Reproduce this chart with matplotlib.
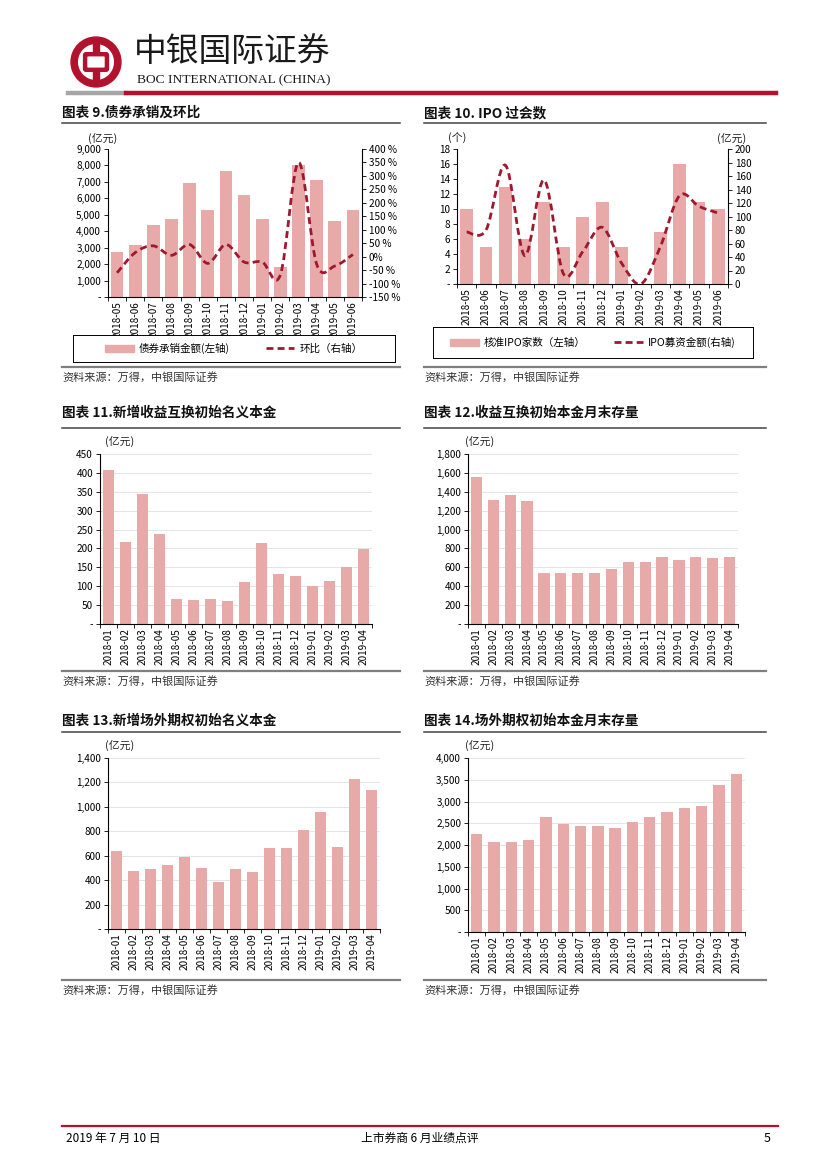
import numpy as np
import matplotlib
matplotlib.use("Agg")
import matplotlib.pyplot as plt
from matplotlib.path import Path
from matplotlib.patches import PathPatch, Wedge, Rectangle, FancyBboxPatch, Patch
from matplotlib.lines import Line2D
from matplotlib.ticker import FixedLocator, FuncFormatter

plt.rcParams['font.family'] = ['Liberation Sans Narrow', 'Noto Sans CJK SC', 'DejaVu Sans']

# ---- data ----
months_a = ['2018-05', '2018-06', '2018-07', '2018-08', '2018-09', '2018-10', '2018-11',
            '2018-12', '2019-01', '2019-02', '2019-03', '2019-04', '2019-05', '2019-06']
months_b = ['2018-01', '2018-02', '2018-03', '2018-04', '2018-05', '2018-06', '2018-07',
            '2018-08', '2018-09', '2018-10', '2018-11', '2018-12', '2019-01', '2019-02',
            '2019-03', '2019-04']

bond_amt = [2750, 3150, 4400, 4750, 6950, 5300, 7650, 6200, 4750, 1800, 8050, 7100, 4600, 5300]
bond_mom = [-60, 15, 40, 5, 45, -25, 45, -20, -20, -68, 350, -28, -35, 8]

ipo_cnt = [10, 5, 13, 6, 11, 5, 9, 11, 5, 0, 7, 16, 11, 10]
ipo_amt = [77, 80, 176, 42, 154, 15, 48, 84, 31, 0, 55, 131, 115, 105]

trs_new = [408, 216, 343, 238, 66, 64, 66, 62, 112, 214, 132, 128, 101, 113, 151, 198]
trs_bal = [1560, 1315, 1370, 1305, 545, 540, 538, 540, 580, 652, 658, 705, 680, 705, 700, 705]
otc_new = [640, 478, 492, 528, 588, 502, 382, 494, 468, 660, 660, 810, 958, 668, 1230, 1140]
otc_bal = [2250, 2060, 2060, 2120, 2650, 2490, 2430, 2440, 2400, 2520, 2640, 2750, 2860, 2890, 3380, 3640]

BAR = '#E8A9A9'
LINE = '#A0182E'
RED = '#B3122E'
CJK = ['Noto Sans CJK SC']
W, H = 827, 1169

fig = plt.figure(figsize=(W / 100, H / 100), dpi=100)


def px_axes(x0, y0, x1, y1):
    return fig.add_axes([x0 / W, 1 - y1 / H, (x1 - x0) / W, (y1 - y0) / H])


def ftext(x, y, s, **kw):
    fig.text(x / W, 1 - y / H, s, **kw)


def hline(x0, x1, y, color, lw):
    fig.add_artist(Line2D([x0 / W, x1 / W], [1 - y / H, 1 - y / H], color=color, lw=lw))


def thousands(v, pos=None):
    if v == 0:
        return '-'
    return f'{int(v):,}'


def smooth_path(xs, ys):
    # Bezier path through the points (Excel-like smoothed line)
    pts = np.column_stack([xs, ys]).astype(float)
    verts = [pts[0]]
    codes = [Path.MOVETO]
    n = len(pts)
    for i in range(n - 1):
        p0 = pts[i - 1] if i > 0 else pts[i]
        p1 = pts[i]
        p2 = pts[i + 1]
        p3 = pts[i + 2] if i + 2 < n else pts[i + 1]
        c1 = p1 + (p2 - p0) / 6
        c2 = p2 - (p3 - p1) / 6
        verts += [c1, c2, p2]
        codes += [Path.CURVE4] * 3
    return Path(verts, codes)


def style_cat_axis(ax, labels, grid=True):
    n = len(labels)
    ax.set_xlim(-0.5, n - 0.5)
    ax.set_xticks(range(n))
    ax.set_xticklabels(labels, rotation=90, fontsize=7.2)
    ax.xaxis.set_minor_locator(FixedLocator(np.arange(-0.5, n, 1)))
    ax.tick_params(axis='x', which='major', length=0, pad=3)
    ax.tick_params(axis='x', which='minor', length=3, width=0.6, direction='out')
    ax.tick_params(axis='y', length=3, width=0.6, labelsize=7.2, direction='out', pad=2)
    for s in ['top', 'right']:
        ax.spines[s].set_visible(False)
    ax.spines['left'].set_linewidth(0.8)
    ax.spines['bottom'].set_linewidth(0.8)
    if grid:
        ax.yaxis.grid(True, color='#E0E0E0', lw=0.6)
        ax.set_axisbelow(True)


def section(x, title_y, line_y, sep_y, x1, title):
    ftext(x, title_y, title, fontsize=9.8, fontweight='bold', va='center', color='#111111')
    hline(x, x1, line_y, '#444444', 1.1)
    hline(x, x1, sep_y, '#7F7F7F', 1.6)
    ftext(x, sep_y + 10, '资料来源：万得，中银国际证券', fontsize=8, style='italic',
          va='center', color='#333333', family=CJK)


def unit(x, y, s):
    ftext(x, y, s, fontsize=7.8, va='center', color='#222222', family=CJK)


def bar_chart(rect, labels, vals, ymax, step):
    ax = px_axes(*rect)
    ax.bar(range(len(vals)), vals, width=0.66, color=BAR)
    style_cat_axis(ax, labels)
    ax.set_ylim(0, ymax)
    ax.set_yticks(np.arange(0, ymax + 1, step))
    ax.yaxis.set_major_formatter(FuncFormatter(thousands))
    return ax


def legend_box(rect, labels, colsp):
    lb = px_axes(*rect)
    lb.set_xticks([])
    lb.set_yticks([])
    for s in lb.spines.values():
        s.set_linewidth(0.7)
    lb.legend([Patch(color=BAR), Line2D([], [], color=LINE, lw=2.0, ls=(0, (2.5, 1.5)))],
              labels, loc='center', ncol=2, frameon=False, columnspacing=colsp,
              handlelength=2.7, handletextpad=0.5, prop={'family': CJK, 'size': 7.6})


# ---- header ----
lg = px_axes(70, 36, 122, 88)
lg.set_xlim(0, 1)
lg.set_ylim(0, 1)
lg.axis('off')
lg.add_patch(Wedge((0.5, 0.5), 0.48, 0, 360, width=0.12, color=RED))
lg.add_patch(Rectangle((0.445, 0.06), 0.11, 0.88, color=RED))
lg.add_patch(FancyBboxPatch((0.31, 0.37), 0.38, 0.26, boxstyle='round,pad=0.02',
                            fc='white', ec=RED, lw=3.2))
ftext(134, 52, '中银国际证券', fontsize=23.6, va='center', color='#1a1a1a', family=CJK)
ftext(137, 80, 'BOC INTERNATIONAL (CHINA)', fontsize=9.7, va='center',
      color='#1a1a1a', family=['Liberation Serif'])
hline(68, 126, 93, '#A6A6A6', 3.2)
hline(126, 776, 93, RED, 3.2)

# ---- section frames ----
section(62, 113, 123, 367, 400, '图表 9.债券承销及环比')
section(424, 113, 123, 367, 766, '图表 10. IPO 过会数')
section(62, 413, 428, 671, 400, '图表 11.新增收益互换初始名义本金')
section(424, 413, 428, 671, 766, '图表 12.收益互换初始本金月末存量')
section(62, 721, 732, 980, 400, '图表 13.新增场外期权初始名义本金')
section(424, 721, 732, 980, 766, '图表 14.场外期权初始本金月末存量')

# ---- chart 9 ----
ax9 = px_axes(108, 149, 362, 297)
ax9.bar(range(len(bond_amt)), bond_amt, width=0.7, color=BAR)
style_cat_axis(ax9, months_a, grid=False)
ax9.set_ylim(0, 9000)
ax9.set_yticks(np.arange(0, 9001, 1000))
ax9.yaxis.set_major_formatter(FuncFormatter(thousands))
ax9r = ax9.twinx()
ax9r.set_ylim(-150, 400)
ax9r.set_yticks(np.arange(-150, 401, 50))
ax9r.yaxis.set_major_formatter(FuncFormatter(lambda v, p: '0%' if v == 0 else f'{int(v)} %'))
ax9r.tick_params(axis='y', length=3, width=0.6, labelsize=7.2, pad=2)
for s in ['top', 'left', 'bottom']:
    ax9r.spines[s].set_visible(False)
ax9r.spines['right'].set_linewidth(0.8)
ax9r.add_patch(PathPatch(smooth_path(range(len(bond_mom)), bond_mom), fill=False,
                         ec=LINE, lw=2.0, ls=(0, (2.5, 1.5))))
unit(88, 138, '(亿元)')
legend_box((73, 335, 395, 362), ['债券承销金额(左轴)', '环比（右轴）'], 3.4)

# ---- chart 10 ----
ax10 = px_axes(457, 149, 728, 284)
ax10.bar(range(len(ipo_cnt)), ipo_cnt, width=0.66, color=BAR)
style_cat_axis(ax10, months_a, grid=False)
ax10.set_ylim(0, 18)
ax10.set_yticks(np.arange(0, 19, 2))
ax10.yaxis.set_major_formatter(FuncFormatter(thousands))
ax10r = ax10.twinx()
ax10r.set_ylim(0, 200)
ax10r.set_yticks(np.arange(0, 201, 20))
ax10r.tick_params(axis='y', length=3, width=0.6, labelsize=7.2, pad=2)
for s in ['top', 'left', 'bottom']:
    ax10r.spines[s].set_visible(False)
ax10r.spines['right'].set_linewidth(0.8)
ax10r.add_patch(PathPatch(smooth_path(range(len(ipo_amt)), ipo_amt), fill=False,
                          ec=LINE, lw=2.0, ls=(0, (2.5, 1.5))))
unit(448, 138, '(个)')
unit(717, 138, '(亿元)')
legend_box((433, 327, 753, 358), ['核准IPO家数（左轴）', 'IPO募资金额(右轴)'], 2.7)

# ---- charts 11-14 ----
bar_chart((100, 454, 372, 624), months_b, trs_new, 450, 50)
unit(105, 441, '(亿元)')
bar_chart((468, 454, 738, 624), months_b, trs_bal, 1800, 200)
unit(465, 441, '(亿元)')
bar_chart((108, 758, 380, 929), months_b, otc_new, 1400, 200)
unit(105, 745, '(亿元)')
bar_chart((468, 758, 745, 932), months_b, otc_bal, 4000, 500)
unit(465, 745, '(亿元)')

# ---- footer ----
hline(62, 778, 1126, RED, 1.6)
ftext(66, 1138, '2019 年 7 月 10 日', fontsize=8.5, va='center')
ftext(420, 1138, '上市券商 6 月业绩点评', fontsize=8.5, va='center', ha='center')
ftext(771, 1138, '5', fontsize=9, va='center', ha='right')

fig.savefig('out.png', dpi=100)
